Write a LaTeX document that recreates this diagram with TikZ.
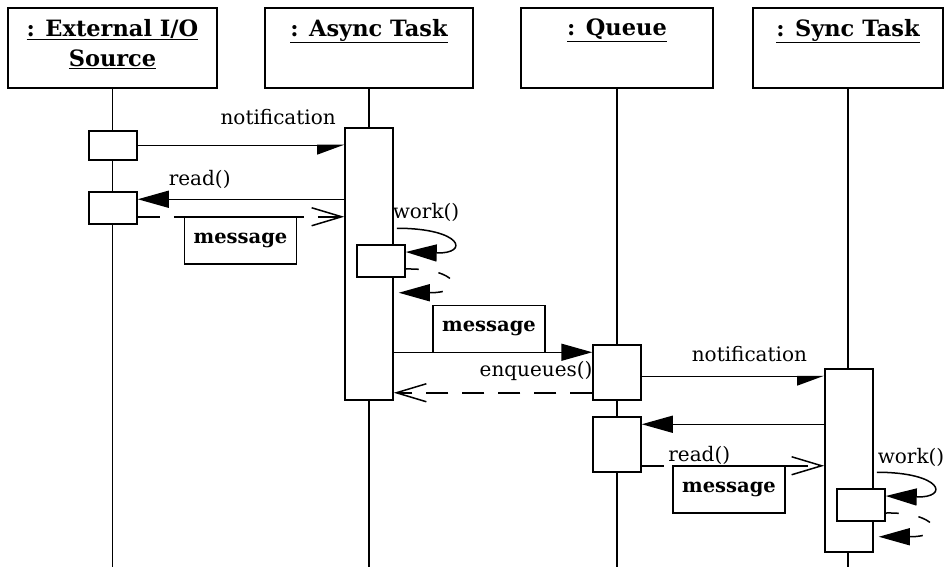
\documentclass[tikz,border=0pt]{standalone}
\usepackage{fontspec}
\setmainfont{DejaVu Serif}
\usetikzlibrary{arrows.meta,positioning,calc}

\begin{document}
\begin{tikzpicture}
		[   x=1pt,y=-1pt,line width=1.5pt,
			font=\fontsize{20}{23}\selectfont,
			head/.style={draw,fill=white,minimum height=80pt,minimum width=#1,inner sep=0pt},
			headtxt/.style={anchor=north,align=center,inner sep=0pt,font=\fontsize{22.5}{30}\selectfont\bfseries},
			act/.style={draw,fill=white,minimum width=48pt,minimum height=#1,inner sep=0pt},
			msg/.style={draw,fill=white,minimum width=112pt,minimum height=47pt,inner sep=0pt,font=\fontsize{19.5}{22}\selectfont\bfseries},
		]
		\tikzset{call arrow/.style={draw,-{Triangle[length=31pt,width=17pt]}},
			signal arrow/.style={draw,-{Triangle[harpoon,swap,length=25pt,width=18pt]}},
			return arrow/.style={draw,dash pattern=on 22pt off 14pt,-{Straight Barb[length=30pt,width=18pt]}},
			self return/.style={draw,dash pattern=on 13pt off 20pt,-{Triangle[length=31pt,width=17pt]}}}
		\useasboundingbox (0,0) rectangle (945,567);
		\coordinate (bottom) at (0,567);
		
		% objects
		\node[head=209pt] (src) at (112.5,48) {};
		\node[head=208pt] (async) at (369,48) {};
		\node[head=192pt] (queue) at (617,48) {};
		\node[head=190pt] (sync) at (848,48) {};
		
		\node[headtxt] (src-t) at ([yshift=-11pt]src.north) {\underline{: External I/O}\\\underline{Source}};
		\node[headtxt] (async-t) at ([yshift=-11pt]async.north) {\underline{: Async Task}};
		\node[headtxt] (queue-t) at ([yshift=-11pt]queue.north) {\underline{: Queue}};
		\node[headtxt] (sync-t) at ([yshift=-11pt]sync.north) {\underline{: Sync Task}};
		
		% lifelines
		\foreach \n in {src,async,queue,sync}
		{
			\draw (\n.south) -- (\n.south |- bottom);
		}
		
		% activations
		\node[act=29pt] (src-1) at (113,145.5) {};
		\node[act=32pt] (src-2) at (113,208) {};
		\node[act=272pt] (async-1) at (369,264) {};
		\node[act=32pt] (async-2) at (381,261) {};
		\node[act=55pt] (queue-1) at (617,372.5) {};
		\node[act=55pt] (queue-2) at (617,444.5) {};
		\node[act=183pt] (sync-1) at (849,460.5) {};
		\node[act=32pt] (sync-2) at (861,505) {};
		
		\node[msg,anchor=north] (msg-1) at (240.5,216) {message};
		\node[msg,anchor=south] (msg-2) at (489,353) {message};
		\node[msg,anchor=north] (msg-3) at (729,465) {message};
		
		% messages
		\path[signal arrow] (src-1.east) -- node[pos=0.68,above=17pt] (note-1) {notification} (src-1.east -| async-1.west);
		\path[call arrow] ($(src-2.north east -| async-1.west)+(0,8)$) -- node[pos=0.7,above=7pt] (read-1) {read()} ($(src-2.north east)+(0,8)$);
		\path[return arrow] ($(src-2.south east)+(0,-8)$) -- ($(src-2.south east -| async-1.west)+(0,-8)$);
		
		\path[call arrow] ($(async-2.north -| async-1.east)+(3,-16)$) .. controls +(66,0) and +(64,2) .. ($(async-2.east)+(0,-9)$);
		\path[self return] ($(async-2.east)+(0,8)$) .. controls +(52,-1) and +(70,0) .. ($(async-2.south -| async-1.east)+(5,15)$);
		\node (work-1) at (426,212) {work()};
		
		\path[call arrow] ($(queue-1.north west -| async-1.east)+(0,8)$) -- ($(queue-1.north west)+(0,8)$);
		\node[anchor=east,inner sep=0pt] (enq) at ($(queue-1.west)+(1,-2)$) {enqueues()};
		\path[return arrow] ($(queue-1.south west)+(0,-8)$) -- ($(queue-1.south west -| async-1.east)+(0,-8)$);
		
		\path[signal arrow] ($(queue-1.east)+(0,4)$) -- node[pos=0.59,above=11pt] (note-2) {notification} ($(queue-1.east -| sync-1.west)+(0,4)$);
		\path[call arrow] ($(queue-2.north east -| sync-1.west)+(0,8)$) -- ($(queue-2.north east)+(0,8)$);
		\path[return arrow] ($(queue-2.south east)+(0,-7)$) -- node[pos=0.315,above=-3pt] (read-2) {read()} ($(queue-2.south east -| sync-1.west)+(0,-7)$);
		
		\path[call arrow] ($(sync-2.north -| sync-1.east)+(3,-16)$) .. controls +(66,0) and +(64,2) .. ($(sync-2.east)+(0,-9)$);
		\path[self return] ($(sync-2.east)+(0,8)$) .. controls +(52,-1) and +(70,0) .. ($(sync-2.south -| sync-1.east)+(5,15)$);
		\node (work-2) at (911,457) {work()};
		
\end{tikzpicture}
\end{document}
